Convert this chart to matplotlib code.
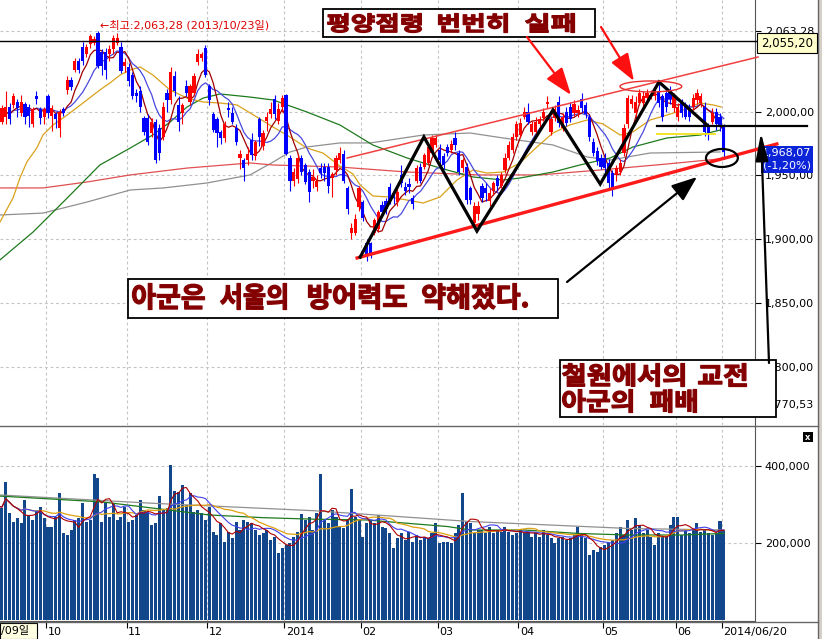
import numpy as np
import pandas as pd
import matplotlib.pyplot as plt
import matplotlib.transforms as mtransforms
from matplotlib.patches import Rectangle, Ellipse, FancyArrowPatch, PathPatch
from matplotlib.lines import Line2D
from matplotlib.textpath import TextPath
from matplotlib.font_manager import FontProperties

plt.rcParams['font.family'] = ['DejaVu Sans', 'Noto Sans CJK KR']

W, H = 822, 639

# 일봉 2013/09/09 ~ 2014/06/20 (월별로 한 줄씩)
open_ = [1974, 1992, 1996, 2004, 2005, 2008, 1999, 2006, 2004, 1990, 2012, 2002, 1996,
         2012, 1997, 1998, 1987, 2002, 2017, 2025, 2033, 2040, 2051, 2045, 2053, 2054, 2062, 2047, 2047, 2045, 2049, 2054, 2051, 2036,
         2035, 2029, 2015, 2016, 1995, 1995, 1983, 1992, 1987, 1980, 2015, 2009, 2028, 2005, 1999, 2020, 2008, 2015, 2039, 2042, 2050,
         2020, 1998, 1994, 1984, 1979, 2003, 1999, 1987, 1964, 1962, 1962, 1978, 1965, 1994, 1973, 1993, 1998, 2010, 1993, 2004,
         2013, 1964, 1946, 1947, 1964, 1958, 1953, 1946, 1941, 1956, 1957, 1957, 1948, 1954, 1962, 1967, 1940, 1905, 1905, 1925,
         1929, 1897, 1897, 1905, 1908, 1927, 1930, 1941, 1936, 1929, 1950, 1941, 1943, 1932, 1946, 1957, 1957, 1960, 1968, 1974,
         1970, 1965, 1972, 1970, 1979, 1968, 1956, 1957, 1940, 1913, 1920, 1942, 1940, 1930, 1938, 1948, 1942, 1954, 1964, 1970, 1980,
         1982, 1996, 2000, 1984, 1984, 1990, 1995, 2006, 1984, 1995, 2008, 1987, 2000, 2004, 1999, 1999, 2010, 2005, 1996, 1976, 1969, 1964,
         1964, 1960, 1952, 1950, 1953, 1968, 1990, 2006, 1999, 2007, 2007, 2011, 2012, 2012, 2016, 2012, 2015, 2017, 2003,
         1996, 2007, 2005, 2003, 2004, 2009, 2007, 2004, 1988, 1992, 2000, 1996, 1988]
close_ = [1992, 2003, 2004, 1994, 2012, 2003, 2008, 1996, 1997, 2002, 2010, 1995, 2002,
          1999, 2003, 1994, 2000, 1999, 2025, 2019, 2040, 2033, 2040, 2051, 2059, 2057, 2036, 2036, 2033, 2049, 2058, 2058, 2032, 2039,
          2024, 2012, 2012, 2004, 1984, 1976, 1992, 1962, 1968, 2004, 2009, 2031, 2016, 1992, 2005, 2015, 2020, 2028, 2045, 2045, 2029,
          2009, 1986, 1983, 1979, 1990, 2001, 1992, 1976, 1967, 1956, 1967, 1966, 1976, 1980, 1983, 1996, 2002, 1998, 2002, 2011,
          1967, 1946, 1953, 1964, 1953, 1945, 1937, 1949, 1946, 1952, 1952, 1942, 1951, 1964, 1968, 1946, 1924, 1909, 1916, 1940,
          1917, 1887, 1889, 1915, 1921, 1921, 1924, 1930, 1932, 1937, 1944, 1938, 1941, 1928, 1956, 1946, 1966, 1972, 1979, 1979,
          1962, 1958, 1968, 1975, 1974, 1953, 1962, 1931, 1931, 1926, 1926, 1932, 1936, 1936, 1944, 1942, 1950, 1964, 1974, 1980, 1990,
          1991, 2000, 1992, 1990, 1992, 1994, 2000, 2008, 1994, 2002, 1991, 1996, 1991, 1994, 2006, 2001, 2003, 1998, 1980, 1968, 1961, 1957,
          1956, 1944, 1940, 1956, 1960, 1987, 2011, 2010, 2008, 2015, 2012, 2015, 2013, 2016, 2007, 1996, 2004, 2010, 2012,
          2004, 1999, 1996, 1996, 2011, 2015, 2012, 1984, 1983, 1999, 1990, 1988, 1968.07]
high_ = [1995, 2005, 2016, 2007, 2015, 2010, 2013, 2008, 2006, 2004, 2016, 2004, 2004,
         2014, 2005, 2000, 2002, 2004, 2028, 2027, 2042, 2042, 2055, 2053, 2061, 2059, 2063.28, 2049, 2050, 2052, 2060, 2062, 2055, 2042,
         2038, 2031, 2018, 2020, 1997, 1998, 1995, 1994, 1990, 2008, 2018, 2035, 2032, 2012, 2007, 2025, 2022, 2030, 2049, 2047, 2052,
         2022, 2000, 1996, 1986, 1993, 2008, 2004, 1990, 1970, 1964, 1972, 1983, 1978, 1996, 1986, 2000, 2008, 2013, 2007, 2013,
         2014, 1966, 1956, 1967, 1966, 1960, 1955, 1955, 1950, 1960, 1960, 1960, 1953, 1966, 1972, 1970, 1942, 1913, 1920, 1942,
         1931, 1900, 1898, 1917, 1923, 1930, 1932, 1944, 1939, 1940, 1958, 1945, 1948, 1935, 1958, 1960, 1968, 1974, 1982, 1982,
         1975, 1968, 1975, 1978, 1984, 1970, 1964, 1960, 1942, 1929, 1930, 1944, 1944, 1940, 1946, 1950, 1953, 1968, 1977, 1983, 1993,
         1995, 2004, 2007, 1993, 1996, 1997, 2003, 2012, 1997, 2005, 2012, 1999, 2004, 2008, 2009, 2005, 2015, 2008, 1998, 1979, 1972, 1967,
         1968, 1963, 1954, 1958, 1963, 1990, 2013, 2013, 2012, 2018, 2016, 2018, 2017, 2019, 2022, 2014, 2018, 2020, 2015,
         2007, 2010, 2008, 2006, 2014, 2018, 2015, 2008, 1991, 2003, 2003, 1999, 1990]
low_ = [1970, 1990, 1990, 1990, 2003, 1996, 1997, 1990, 1988, 1988, 2006, 1990, 1990,
        1995, 1985, 1987, 1980, 1997, 2014, 2017, 2031, 2030, 2037, 2043, 2050, 2052, 2034, 2029, 2026, 2040, 2045, 2052, 2030, 2031,
        2020, 2010, 2008, 2000, 1982, 1974, 1980, 1960, 1962, 1978, 2000, 2006, 2012, 1985, 1990, 2012, 2005, 2013, 2037, 2040, 2027,
        2005, 1984, 1972, 1975, 1976, 1996, 1990, 1974, 1955, 1946, 1958, 1962, 1962, 1973, 1970, 1985, 1995, 1994, 1990, 2000,
        1966, 1938, 1942, 1944, 1950, 1943, 1929, 1940, 1938, 1948, 1946, 1936, 1933, 1950, 1960, 1944, 1920, 1900, 1903, 1922,
        1914, 1883, 1885, 1903, 1906, 1918, 1920, 1928, 1928, 1926, 1941, 1935, 1936, 1924, 1944, 1944, 1955, 1958, 1966, 1972,
        1958, 1955, 1965, 1968, 1970, 1950, 1953, 1928, 1928, 1911, 1915, 1929, 1930, 1926, 1935, 1938, 1940, 1952, 1962, 1968, 1978,
        1980, 1994, 1990, 1982, 1980, 1986, 1993, 2003, 1982, 1993, 1988, 1985, 1989, 1992, 1997, 1996, 2000, 1995, 1977, 1965, 1958, 1955,
        1953, 1940, 1934, 1946, 1950, 1965, 1987, 2003, 1995, 2005, 2004, 2008, 2010, 2009, 2004, 1993, 2000, 2006, 2000,
        1993, 1996, 1994, 1993, 2001, 2006, 2004, 1981, 1978, 1990, 1986, 1985, 1963]

# 거래량 (천주)
volume_k = [295, 290, 358, 276, 255, 265, 250, 311, 272, 258, 282, 293, 265,
            240, 241, 268, 330, 224, 220, 233, 259, 263, 304, 255, 259, 378, 369, 255, 302, 268, 304, 259, 268, 292,
            255, 259, 272, 311, 285, 281, 246, 250, 321, 285, 289, 402, 335, 332, 350, 298, 328, 281, 285, 276, 259,
            292, 229, 220, 250, 202, 229, 211, 255, 233, 259, 255, 250, 233, 220, 224, 233, 207, 216, 172, 185,
            194, 198, 216, 229, 274, 259, 268, 233, 276, 378, 259, 250, 285, 268, 241, 237, 259, 339, 268, 259,
            216, 250, 259, 250, 272, 241, 237, 224, 185, 211, 224, 207, 229, 202, 220, 207, 216, 211, 224, 250,
            198, 202, 202, 198, 224, 246, 330, 255, 250, 224, 233, 233, 224, 241, 224, 233, 229, 241, 229, 220, 224,
            233, 224, 229, 216, 224, 216, 233, 220, 211, 198, 211, 216, 207, 211, 220, 240, 224, 211, 168, 181, 177, 190,
            194, 198, 207, 224, 241, 220, 260, 233, 265, 246, 224, 233, 216, 194, 224, 216, 220, 246, 268,
            268, 220, 233, 224, 233, 250, 229, 233, 224, 220, 226, 257, 233]

# 이동평균 (화면에서 읽은 값)
ma20_x = [0.5, 3.9, 5.7, 7.5, 10.1, 11.7, 14.3, 18, 22.1, 26.5, 29.1, 31.8, 34.4, 37, 40.3, 44.8, 49.2, 53.4, 57.8,
          62.2, 67.4, 71.6, 76, 80.4, 84.6, 89, 92.4, 94.3, 97.6, 102, 106.5, 110.7, 115.1, 119.5, 123.7, 127.3,
          131.5, 135.9, 140.3, 144.5, 148.9, 153.4, 157.5, 162, 165.3, 169.8, 174.2, 178.4, 182.8, 186.2, 188.3]
ma20_y = [1913.5, 1932.4, 1948.1, 1960.6, 1971.6, 1981.8, 1989.6, 1997.4, 2006.8, 2017, 2022.5, 2028.8, 2032.7,
          2035.1, 2028.8, 2017, 2010.7, 2007.6, 2006.8, 2005.3, 1995.8, 1988, 1980.2, 1971.5, 1967.6, 1957.4, 1951.2,
          1942.5, 1933.9, 1933.1, 1930.7, 1928.4, 1933.1, 1946.4, 1954.3, 1951.9, 1952.7, 1959.8, 1972.3, 1983.3,
          1989.6, 1993.5, 1990.4, 1981.7, 1984.1, 1993.5, 1997.4, 2001.3, 2006.8, 2005.3, 2003.7]
ma60_x = [0.5, 9.1, 18, 26.5, 34.4, 40.3, 44.8, 49.2, 53.4, 57.8, 65.6, 71.6, 80.4, 89, 97.6, 106.5, 115.1,
          123.7, 131.5, 135.9, 144.5, 151.5, 159.4, 165.3, 174.2, 182.8, 188]
ma60_y = [1883.8, 1905.6, 1932.3, 1958.2, 1971.5, 1981.8, 1991.9, 2003.7, 2010.7, 2013.9, 2011.5, 2009.2, 1999.8,
          1989.6, 1973.9, 1963.7, 1955.8, 1948.8, 1946.4, 1948, 1952.7, 1958.2, 1963.7, 1972.3, 1979.4, 1981.7, 1985.6]
ma120_x = [0.5, 11.7, 23.2, 34.4, 49.2, 65.6, 71.6, 89, 106.5, 125.5, 141.1, 156.8, 174.2, 188]
ma120_y = [1940.2, 1940.2, 1944.9, 1950.4, 1955.8, 1959.8, 1958.2, 1956.6, 1952.7, 1950.4, 1950.4, 1954.3, 1959,
           1963]
ma240_x = [0.5, 11.7, 23.2, 34.4, 43, 54.4, 65.6, 71.6, 76, 80.4, 89, 96.9, 110.7, 122.9, 131.5, 144.5, 153.4,
           159.4, 169.8, 188]
ma240_y = [1919, 1920.5, 1929.2, 1938.6, 1940.2, 1944.1, 1950.4, 1960.5, 1968.4, 1972.3, 1975.5, 1975.5, 1981.7,
           1983.3, 1979.4, 1973.9, 1964.5, 1962.1, 1967.6, 1968.4]
vma60_x = [0.5, 27, 55, 69, 82.4, 96, 117, 123, 137, 151, 164, 178, 189]
vma60_y = [321, 306, 272, 265, 261, 259, 242, 233, 233, 224, 220, 220, 224]
vma120_x = [0.5, 41, 82.4, 123, 164, 189]
vma120_y = [324, 302, 283, 255, 237, 233]

month_start = [13, 34, 55, 75, 95, 115, 136, 158, 177]
month_labels = ['10', '11', '12', '2014', '02', '03', '04', '05', '06']
price_ticks = [2063.28, 2000, 1950, 1900, 1850, 1800, 1770.53]
price_tick_labels = ['2,063,28', '2,000,00', '1,950,00', '1,900,00', '1,850,00', '1,800,00', '1,770,53']

n = len(close_)
idx = np.arange(n)
o = np.array(open_, float)
c = np.array(close_, float)
hi = np.array(high_, float)
lo = np.array(low_, float)
vol = np.array(volume_k, float) * 1000

s = pd.Series(c)
ma5 = s.rolling(5, min_periods=1).mean()
ma10 = s.rolling(10, min_periods=1).mean()
vs = pd.Series(vol)
vma5 = vs.rolling(5, min_periods=1).mean()
vma10 = vs.rolling(10, min_periods=1).mean()
vma20 = vs.rolling(20, min_periods=1).mean()


def fx(px):
    return px / W


def fy(py):
    return 1 - py / H


fig = plt.figure(figsize=(W / 100, H / 100), dpi=100)
fig.patch.set_facecolor('white')
ax = fig.add_axes([0, fy(425), 755 / W, 425 / H])
axv = fig.add_axes([0, fy(621), 755 / W, 194 / H])
pix = mtransforms.Affine2D().scale(1 / W, 1 / H) + fig.transFigure

xmin, xmax = 0.5, 0.5 + 755 / 3.84
grid_x = [m - 0.5 for m in month_start] + [188.5]
grid_kw = dict(color='#c4c4c4', lw=0.8, ls=(0, (2.5, 2.5)), zorder=0)

# ---- 가격 ----
ax.set_xlim(xmin, xmax)
ax.set_ylim(1754.3, 2087.6)
for gx in grid_x:
    ax.axvline(gx, **grid_kw)
for gy in price_ticks[:-1]:
    ax.axhline(gy, **grid_kw)

ax.plot(ma240_x, ma240_y, color='#909090', lw=0.9, zorder=1)
ax.plot(ma120_x, ma120_y, color='#e05050', lw=0.9, zorder=1)
ax.plot(ma60_x, ma60_y, color='#1e7a1e', lw=0.9, zorder=1)
ax.plot(ma20_x, ma20_y, color='#d9a21c', lw=0.9, zorder=1)
ax.plot(idx, ma10, color='#4848e0', lw=0.9, zorder=1)
ax.plot(idx, ma5, color='#a00000', lw=0.9, zorder=1)

up = c >= o
cols = np.where(up, '#ff0000', '#0000ff')
ax.vlines(idx, lo, hi, colors=cols, lw=0.8, zorder=3)
body = np.maximum(np.abs(c - o), 0.8)
ax.bar(idx, body, bottom=np.minimum(o, c), width=0.84, color=cols, lw=0, zorder=3)

ax.axhline(2055.2, color='black', lw=1.0, zorder=4)
ax.add_line(Line2D([xmax, xmax + 16], [2055.2, 2055.2], color='black', lw=1.0, clip_on=False, zorder=4))

# 추세선 / 도형
ax.plot([90.9, 197.9], [1963.7, 2042.9], color='#f04040', lw=1.1, clip_on=False, zorder=5)
ax.plot([93.5, 202.8], [1885.3, 1974.7], color='#ff1a1a', lw=2.4, clip_on=False, zorder=5)
zz_x = [94.3, 110.9, 124.7, 144.5, 156.8, 172.1, 184.6]
zz_y = [1886, 1980.2, 1906.4, 2001.3, 1943.3, 2023.3, 1989.6]
ax.plot(zz_x, zz_y, color='black', lw=2.3, solid_joinstyle='miter', zorder=6)
ax.plot([171.6, 210.7], [1988.8, 1988.8], color='black', lw=1.6, clip_on=False, zorder=6)
ax.plot([171.6, 186.7], [1982.5, 1982.5], color='#f2e21a', lw=1.3, zorder=5)
ax.add_patch(Ellipse((188.5, 1963.7), 8.3, 14.1, fill=False, ec='black', lw=1.6, zorder=6))
ax.add_patch(Ellipse((170.0, 2019.8), 16.1, 8.6, fill=False, ec='#e83030', lw=1.0, zorder=6))

ax.yaxis.tick_right()
ax.set_yticks(price_ticks)
ax.set_yticklabels(price_tick_labels, fontsize=8)
ax.tick_params(axis='y', direction='out', length=4, pad=3, width=0.8)
ax.set_xticks([])
for sp in ['top', 'left', 'bottom']:
    ax.spines[sp].set_visible(False)
ax.spines['right'].set_color('#555555')

# ---- 거래량 ----
axv.set_xlim(xmin, xmax)
axv.set_ylim(-3400, 500500)
for gx in grid_x:
    axv.axvline(gx, **grid_kw)
for gy in [200000, 400000]:
    axv.axhline(gy, **grid_kw)
axv.bar(idx, vol, width=0.8, color='#13478b', lw=0, zorder=2)
axv.plot(vma120_x, np.array(vma120_y) * 1000, color='#909090', lw=0.9, zorder=3)
axv.plot(vma60_x, np.array(vma60_y) * 1000, color='#1e7a1e', lw=0.9, zorder=3)
axv.plot(idx, vma20, color='#e0a010', lw=0.9, zorder=3)
axv.plot(idx, vma10, color='#4040f0', lw=0.8, zorder=3)
axv.plot(idx, vma5, color='#b00000', lw=0.8, zorder=3)
axv.yaxis.tick_right()
axv.set_yticks([200000, 400000])
axv.set_yticklabels(['200,000', '400,000'], fontsize=8)
axv.tick_params(axis='y', direction='out', length=4, pad=3, width=0.8)
axv.set_xticks(grid_x)
axv.set_xticklabels([])
axv.tick_params(axis='x', direction='out', length=5, width=0.8)
for sp in ['top', 'left']:
    axv.spines[sp].set_visible(False)
axv.spines['right'].set_color('#555555')
axv.spines['bottom'].set_color('#555555')

# 날짜 라벨
tr = mtransforms.blended_transform_factory(axv.transData, fig.transFigure)
for m, lab in zip(month_start, month_labels):
    axv.text(m - 0.1, fy(632), lab, transform=tr, fontsize=8, ha='left', va='center')
axv.text(188.8, fy(632), '2014/06/20', transform=tr, fontsize=8, ha='left', va='center', clip_on=False)

# ---- 화면 테두리 ----
fig.add_artist(Line2D([0, fx(818)], [fy(425.5), fy(425.5)], color='#666666', lw=1.0))
fig.add_artist(Line2D([0, fx(818)], [fy(622), fy(622)], color='#666666', lw=1.0))
fig.add_artist(Line2D([fx(818), fx(818)], [0, 1], color='#666666', lw=1.0))
fig.add_artist(Rectangle((fx(819), 0), 3 / W, 1, transform=fig.transFigure, fc='#d4d0c8', ec='none'))
fig.add_artist(Rectangle((fx(803), fy(442)), 10 / W, 10 / H, transform=fig.transFigure, fc='black', ec='none'))
fig.text(fx(808), fy(437), 'x', color='white', fontsize=6, ha='center', va='center', weight='bold')
fig.add_artist(Rectangle((0, fy(639)), 37 / W, 16 / H, transform=fig.transFigure, fc='#ffffe1', ec='black', lw=0.8))
fig.text(fx(1), fy(631), '/09일', fontsize=8, ha='left', va='center')

# 최고가 표시
fig.text(fx(100), fy(25), '←최고:2,063,28 (2013/10/23일)', color='#dd0000', fontsize=8, ha='left', va='center')
fig.add_artist(Rectangle((fx(757), fy(53)), 60 / W, 20 / H, transform=fig.transFigure, fc='#ffffcc', ec='black', lw=0.8, zorder=4))
fig.text(fx(787), fy(43), '2,055,20', fontsize=8.5, ha='center', va='center', zorder=5)
fig.add_artist(Rectangle((fx(761), fy(173)), 52 / W, 27 / H, transform=fig.transFigure, fc='#0b24d8', ec='none', zorder=4))
fig.text(fx(787), fy(153), '1,968,07', color='white', fontsize=8, ha='center', va='center', zorder=5)
fig.text(fx(787), fy(166), '(-1,20%)', color='white', fontsize=8, ha='center', va='center', zorder=5)

# 주석 상자: 단어마다 화면의 글자 영역에 맞춰 넓게 늘린 굵은 글씨
kfont = FontProperties(family='Noto Sans CJK KR', weight='black')


def wide_word(word, x0, x1, ytop, ybot):
    tp = TextPath((0, 0), word, size=20, prop=kfont)
    ext = tp.get_extents()
    sx = (x1 - x0 - 1) / ext.width
    sy = (ybot - ytop - 1) / ext.height
    t = mtransforms.Affine2D().translate(-ext.x0, -ext.y0).scale(sx, sy).translate(x0 + 0.5, H - ybot + 0.5)
    fig.add_artist(PathPatch(tp, transform=t + pix, fc='#840000', ec='#840000', lw=0.9,
                             joinstyle='round', zorder=6))


def text_box(x0, y0, x1, y1):
    fig.add_artist(Rectangle((fx(x0), fy(y1)), (x1 - x0) / W, (y1 - y0) / H, transform=fig.transFigure,
                             fc='white', ec='black', lw=1.3, zorder=5))


text_box(323, 9, 595, 37)
for word, x0, x1 in [('평양점령', 327, 422), ('번번히', 438, 508), ('실패', 525, 575)]:
    wide_word(word, x0, x1, 13, 33)
text_box(128, 279, 558, 318)
for word, x0, x1 in [('아군은', 132, 205), ('서울의', 220, 287), ('방어력도', 308, 407), ('약해졌다.', 422, 528)]:
    wide_word(word, x0, x1, 283, 310)
text_box(560, 360, 776, 417)
for word, x0, x1, y0, y1 in [('철원에서의', 562, 685, 363, 387), ('교전', 698, 747, 363, 387),
                             ('아군의', 562, 633, 389, 413), ('패배', 650, 697, 389, 413)]:
    wide_word(word, x0, x1, y0, y1)

# 화살표
arrows = [((527, 37), (571, 95), '#ff1010', 1.4, 0.5),
          ((601, 27), (634, 81), '#ff1010', 1.4, 0.5),
          ((567, 282), (697, 177), 'black', 1.3, 0.5),
          ((769, 363), (761, 133), 'black', 1.4, 0.32)]
for (x0, y0), (x1, y1), col, hl, hw in arrows:
    fig.add_artist(FancyArrowPatch((fx(x0), fy(y0)), (fx(x1), fy(y1)), transform=fig.transFigure,
                                   arrowstyle=f'-|>,head_length={hl},head_width={hw}', mutation_scale=12,
                                   color=col, lw=1.6, shrinkA=0, shrinkB=0, zorder=7))

fig.savefig('out.png', dpi=100)
